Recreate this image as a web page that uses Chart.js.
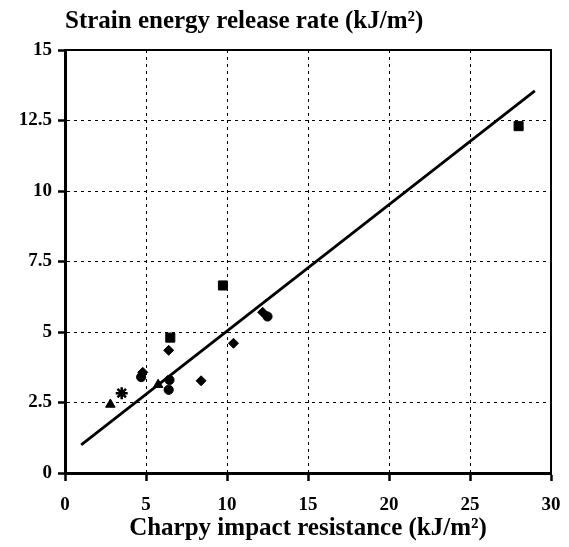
<!DOCTYPE html>
<html>
<head>
<meta charset="utf-8">
<script src="https://cdn.jsdelivr.net/npm/chart.js@4"></script>
<style>
  body { margin: 0; background: #fff; }
  #wrap { width: 569px; height: 547px; }
</style>
</head>
<body>
<div id="wrap"><canvas id="strainChart" width="569" height="547"></canvas></div>
<script>
// Charpy impact resistance (x) vs strain energy release rate (y), kJ/m2
const squareX = [6.5, 9.75, 28.0];
const squareY = [4.8, 6.65, 12.3];

const diamondX = [4.8, 6.4, 8.4, 10.4, 12.2];
const diamondY = [3.57, 4.35, 3.27, 4.6, 5.7];

const circleX = [4.7, 6.45, 6.4, 12.5];
const circleY = [3.4, 3.3, 2.95, 5.55];

const triangleX = [2.8, 5.75];
const triangleY = [2.43, 3.13];

const starX = [3.5];
const starY = [2.83];

const fitX = [1, 29];
const fitY = [1, 13.55];

const xTicks = [0, 5, 10, 15, 20, 25, 30];
const yTicks = [0, 2.5, 5, 7.5, 10, 12.5, 15];

function toPoints(xs, ys) {
    return xs.map((x, i) => ({ x: x, y: ys[i] }));
}

const serif = "'Liberation Serif', 'Times New Roman', serif";

function markerSet(label, xs, ys, style, radius) {
    return {
        label: label,
        data: toPoints(xs, ys),
        pointStyle: style,
        pointRadius: radius,
        pointHoverRadius: radius,
        backgroundColor: "#000",
        borderColor: "#000",
        borderWidth: style === "star" ? 2.5 : 1
    };
}

// top and right frame lines
const framePlugin = {
    id: "frame",
    afterDatasetsDraw(chart) {
        const a = chart.chartArea;
        const ctx = chart.ctx;
        ctx.save();
        ctx.strokeStyle = "#000";
        ctx.lineWidth = 2;
        ctx.beginPath();
        ctx.moveTo(a.left, a.top);
        ctx.lineTo(a.right, a.top);
        ctx.lineTo(a.right, a.bottom);
        ctx.stroke();
        ctx.restore();
    }
};

const ctx = document.getElementById("strainChart");

new Chart(ctx, {
    type: "scatter",
    data: {
        datasets: [
            markerSet("squares", squareX, squareY, "rect", 6.4),
            markerSet("diamonds", diamondX, diamondY, "rectRot", 5),
            markerSet("circles", circleX, circleY, "circle", 4.6),
            markerSet("triangles", triangleX, triangleY, "triangle", 5.5),
            markerSet("stars", starX, starY, "star", 6),
            {
                type: "line",
                label: "fit",
                data: toPoints(fitX, fitY),
                borderColor: "#000",
                borderWidth: 2.8,
                pointRadius: 0,
                fill: false
            }
        ]
    },
    options: {
        responsive: false,
        animation: false,
        devicePixelRatio: 1,
        layout: {
            padding: { left: 0, right: 18, top: 0, bottom: 0 }
        },
        plugins: {
            legend: { display: false },
            tooltip: { enabled: false },
            title: {
                display: true,
                text: "Strain energy release rate (kJ/m²)",
                align: "start",
                fullSize: false,
                color: "#000",
                font: { family: serif, size: 25, weight: "bold" },
                padding: { top: 7, bottom: 13 }
            }
        },
        scales: {
            x: {
                type: "linear",
                min: 0,
                max: 30,
                afterBuildTicks(scale) {
                    scale.ticks = xTicks.map(v => ({ value: v }));
                },
                afterFit(scale) {
                    scale.height = 74;
                    scale.paddingLeft = 0;
                    scale.paddingRight = 0;
                },
                ticks: {
                    color: "#000",
                    padding: 13,
                    maxRotation: 0,
                    font: { family: serif, size: 19, weight: "bold" }
                },
                grid: {
                    color: "#000",
                    lineWidth: 1,
                    tickLength: 8,
                    tickWidth: 2.5,
                    tickColor: "#000",
                    tickBorderDash: []
                },
                border: { color: "#000", width: 3, dash: [3, 4] },
                title: {
                    display: true,
                    text: "Charpy impact resistance (kJ/m²)",
                    color: "#000",
                    font: { family: serif, size: 25, weight: "bold" },
                    padding: { top: 0, bottom: 3 }
                }
            },
            y: {
                type: "linear",
                min: 0,
                max: 15,
                afterBuildTicks(scale) {
                    scale.ticks = yTicks.map(v => ({ value: v }));
                },
                afterFit(scale) {
                    scale.width = 65;
                },
                ticks: {
                    color: "#000",
                    padding: 6,
                    font: { family: serif, size: 19, weight: "bold" }
                },
                grid: {
                    color: "#000",
                    lineWidth: 1,
                    tickLength: 7,
                    tickWidth: 2.5,
                    tickColor: "#000",
                    tickBorderDash: []
                },
                border: { color: "#000", width: 3, dash: [3, 4] }
            }
        }
    },
    plugins: [framePlugin]
});
</script>
</body>
</html>
